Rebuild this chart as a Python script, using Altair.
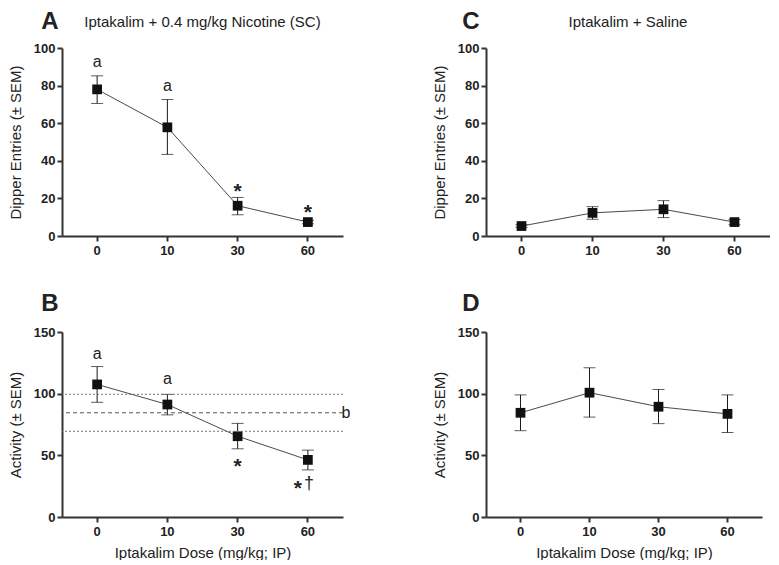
import altair as alt
import pandas as pd

doses = ["0", "10", "30", "60"]

# Panel A: Iptakalim + 0.4 mg/kg Nicotine, dipper entries
a_mean = [78.0, 57.8, 16.1, 7.4]
a_lo = [70.5, 43.4, 11.3, 6.5]
a_hi = [85.2, 72.6, 20.5, 8.3]

# Panel C: Iptakalim + Saline, dipper entries
c_mean = [5.3, 12.3, 14.2, 7.4]
c_lo = [4.6, 8.9, 9.8, 6.0]
c_hi = [6.0, 15.6, 18.8, 8.8]

# Panel B: Iptakalim + Nicotine, activity
b_mean = [107.5, 91.2, 65.5, 46.3]
b_lo = [93.0, 82.8, 55.3, 38.2]
b_hi = [122.0, 99.4, 75.9, 54.2]

# Panel D: Iptakalim + Saline, activity
d_mean = [84.5, 100.8, 89.4, 83.6]
d_lo = [70.0, 81.0, 75.7, 68.5]
d_hi = [99.0, 121.0, 103.4, 99.0]

# annotations
a_letter_dose = ["0", "10"]
a_letter_y = [92.0, 79.0]
a_star_dose = ["30", "60"]
a_star_y = [26.0, 14.7]

b_letter_dose = ["0", "10"]
b_letter_y = [131.0, 111.0]
b_star_dose = ["30"]
b_star_y = [44.8]
b_star2_dose = ["60"]
b_star2_y = [26.9]
b_dagger_dose = ["60"]
b_dagger_y = [26.5]

b_ref_dotted = [99.5, 69.5]
b_ref_dashed = [84.5]
b_ref_label = ["b"]

panel_letters = ["A", "B", "C", "D"]
panel_titles = ["Iptakalim + 0.4 mg/kg Nicotine (SC)", "Iptakalim + Saline"]

FONT = "Liberation Sans"
TXT = "#222222"


def panel(mean, lo, hi, ymax, ystep, ytitle, letter, letter_dx, letter_dy, width, height,
          title=None, xtitle=None, extra=()):
    df = pd.DataFrame({"dose": doses, "mean": mean, "lo": lo, "hi": hi})
    xaxis = alt.Axis(labelAngle=0, tickSize=5, labelPadding=3, titlePadding=7)
    if xtitle:
        x = alt.X("dose:O", sort=doses, axis=xaxis, title=xtitle)
    else:
        x = alt.X("dose:O", sort=doses, axis=xaxis, title=None)
    yscale = alt.Scale(domain=[0, ymax], nice=False, zero=True)
    yaxis = alt.Axis(values=list(range(0, ymax + 1, ystep)), tickSize=5, titlePadding=10,
                     labelOverlap=False)

    def Y(field):
        return alt.Y(field, scale=yscale, axis=yaxis, title=ytitle)

    base = alt.Chart(df)
    line = base.mark_line(color="#4a4a4a", strokeWidth=1).encode(x=x, y=Y("mean:Q"))
    rule = base.mark_rule(color="#1a1a1a", strokeWidth=1).encode(
        x=x, y=Y("lo:Q"), y2="hi:Q")
    tlo = base.mark_tick(color="#1a1a1a", thickness=1, size=12, orient="horizontal").encode(
        x=x, y=Y("lo:Q"))
    thi = base.mark_tick(color="#1a1a1a", thickness=1, size=12, orient="horizontal").encode(
        x=x, y=Y("hi:Q"))
    pts = base.mark_square(color="#111111", size=95, opacity=1).encode(x=x, y=Y("mean:Q"))
    let = alt.Chart(pd.DataFrame({"t": [letter]})).mark_text(
        x=letter_dx, y=letter_dy, fontSize=24, fontWeight="bold", font=FONT, color=TXT,
        baseline="middle", align="center").encode(text="t:N")
    layers = [line, rule, tlo, thi, pts] + [e(x, Y) for e in extra] + [let]
    if title:
        tt = alt.Chart(pd.DataFrame({"t": [title]})).mark_text(
            x=width / 2, y=-26, fontSize=15, font=FONT, color=TXT,
            baseline="middle", align="center").encode(text="t:N")
        layers.append(tt)
    return alt.layer(*layers).properties(width=width, height=height)


def notes(dose, yv, text, size, weight, dy, dx=0):
    def make(x, Y):
        df = pd.DataFrame({"dose": dose, "y": yv, "t": [text] * len(dose)})
        return alt.Chart(df).mark_text(fontSize=size, fontWeight=weight, font=FONT,
                                       color=TXT, baseline="alphabetic", dy=dy, dx=dx).encode(
            x=x, y=Y("y:Q"), text="t:N")
    return make


def refs(vals, dash, color):
    def make(x, Y):
        df = pd.DataFrame({"y": vals})
        return alt.Chart(df).mark_rule(color=color, strokeWidth=1, strokeDash=dash).encode(
            y=Y("y:Q"))
    return make


def ref_label(x, Y):
    df = pd.DataFrame({"dose": ["60"], "y": b_ref_dashed, "t": b_ref_label})
    return alt.Chart(df).mark_text(fontSize=16, font=FONT, color=TXT, baseline="middle",
                                   dx=38).encode(x=x, y=Y("y:Q"), text="t:N")


A = panel(a_mean, a_lo, a_hi, 100, 20, "Dipper Entries (± SEM)", panel_letters[0], -12, -26,
          281, 188, title=panel_titles[0],
          extra=(notes(a_letter_dose, a_letter_y, "a", 16, "normal", 4),
                 notes(a_star_dose, a_star_y, "*", 21, "bold", 11)))
C = panel(c_mean, c_lo, c_hi, 100, 20, "Dipper Entries (± SEM)", panel_letters[2], -15, -26,
          284, 188, title=panel_titles[1])
B = panel(b_mean, b_lo, b_hi, 150, 50, "Activity (± SEM)", panel_letters[1], -12, -28,
          281, 185, xtitle="Iptakalim Dose (mg/kg; IP)",
          extra=(refs(b_ref_dotted, [2, 2], "#777777"),
                 refs(b_ref_dashed, [4, 3], "#555555"),
                 ref_label,
                 notes(b_letter_dose, b_letter_y, "a", 16, "normal", 4),
                 notes(b_star_dose, b_star_y, "*", 21, "bold", 11),
                 notes(b_star2_dose, b_star2_y, "*", 21, "bold", 11, dx=-10),
                 notes(b_dagger_dose, b_dagger_y, "†", 18, "normal", 5, dx=1)))
D = panel(d_mean, d_lo, d_hi, 150, 50, "Activity (± SEM)", panel_letters[3], -15, -28,
          276, 185, xtitle="Iptakalim Dose (mg/kg; IP)")

chart = alt.concat(A, C, B, D, columns=2, spacing={"row": 96, "column": 143},
                   bounds="flush").properties(
    padding={"left": 0, "top": 2, "right": 0, "bottom": 0}).configure_axis(
    grid=False, labelFont=FONT, labelFontWeight="bold", labelFontSize=13, labelColor=TXT,
    titleFont=FONT, titleFontWeight="normal", titleFontSize=15, titleColor=TXT,
    domainColor="#333333", domainWidth=2, tickColor="#333333", tickWidth=2,
).configure_view(strokeWidth=0)

chart.save("out.html", embed_options={"renderer": "svg", "actions": False})
